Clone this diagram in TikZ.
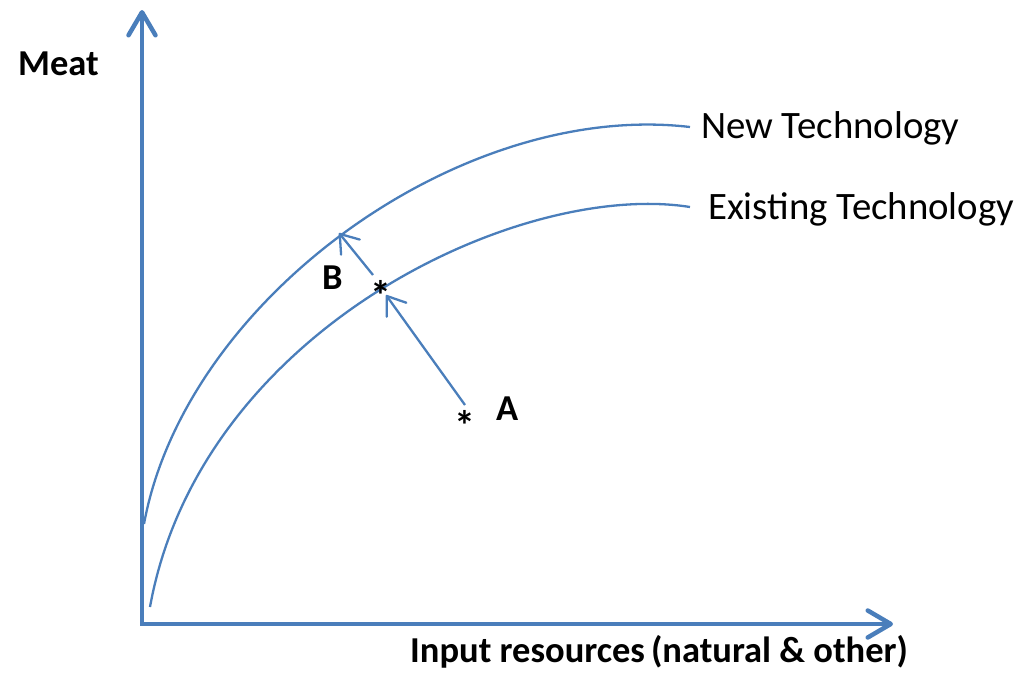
\documentclass[tikz,border=0pt]{standalone}
\usepackage{fontspec}
\setmainfont{Carlito}
\usetikzlibrary{arrows.meta}
\definecolor{axblue}{HTML}{4A7EBB}
\tikzset{
  axis/.style={draw=axblue, line width=4.5pt, {Straight Barb[length=23pt,width=27pt,round]}-{Straight Barb[length=23pt,width=27pt,round]}},
  curve/.style={draw=axblue, line width=2.3pt},
  move/.style={draw=axblue, line width=2.3pt, -{Straight Barb[length=17pt,width=24pt,round]}},
  lbl/.style={font=\fontsize{38.8}{42}\selectfont, anchor=base west, inner sep=0pt},
  blbl/.style={font=\bfseries\fontsize{36.5}{40}\selectfont, anchor=base west, inner sep=0pt},
  star/.style={font=\bfseries\fontsize{42}{42}\selectfont, inner sep=0pt}
}
\begin{document}
\begin{tikzpicture}[x=1pt,y=-1pt]
\useasboundingbox (0,0) rectangle (1029,673);
\coordinate (ytip) at (142,10);
\coordinate (origin) at (142,624);
\coordinate (xtip) at (893,624);
\draw[axis] (ytip) -- (origin) -- (xtip);
% curves
\coordinate (e0) at (150,607);
\coordinate (e1) at (690,207);
\coordinate (n0) at (144,524);
\coordinate (n1) at (690,127);
\draw[curve] (e0) .. controls (200,330) and (520,180) .. (e1);
\draw[curve] (n0) .. controls (185,300) and (460,100) .. (n1);
\node[lbl] (newt) at (701,138) {New Technology};
\node[lbl] (ext) at (708,219) {Existing Technology};
\node[blbl] (meat) at (18,75) {Meat};
\node[blbl] (xlab) at (410,662) {Input resources\,(natural \& other)};
% points
\node[star] (sb) at (380.5,295) {*};
\node[star] (sa) at (465,425) {*};
\node[blbl] (lb) at (322,289) {B};
\node[blbl] (la) at (496,420) {A};
\coordinate (a0) at (465,405);
\coordinate (a1) at (386,295);
\coordinate (b0) at (373,275);
\coordinate (b1) at (339,233);
\draw[move] (a0) -- (a1);
\draw[move] (b0) -- (b1);
\end{tikzpicture}
\end{document}
